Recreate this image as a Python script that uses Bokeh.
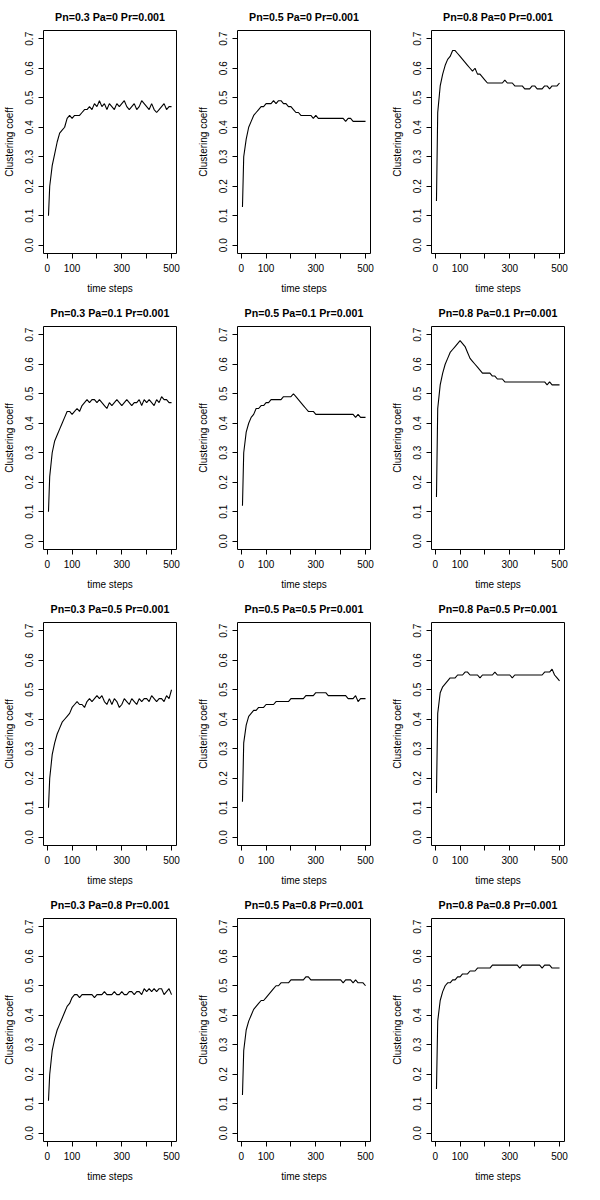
from bokeh.embed import file_html
from bokeh.resources import INLINE
from bokeh.layouts import gridplot
from bokeh.models import FixedTicker, Range1d
from bokeh.plotting import figure

steps = [5] + list(range(10, 501, 10))

titles = [
    "Pn=0.3 Pa=0 Pr=0.001", "Pn=0.5 Pa=0 Pr=0.001", "Pn=0.8 Pa=0 Pr=0.001",
    "Pn=0.3 Pa=0.1 Pr=0.001", "Pn=0.5 Pa=0.1 Pr=0.001", "Pn=0.8 Pa=0.1 Pr=0.001",
    "Pn=0.3 Pa=0.5 Pr=0.001", "Pn=0.5 Pa=0.5 Pr=0.001", "Pn=0.8 Pa=0.5 Pr=0.001",
    "Pn=0.3 Pa=0.8 Pr=0.001", "Pn=0.5 Pa=0.8 Pr=0.001", "Pn=0.8 Pa=0.8 Pr=0.001",
]

cc_03_0 = [0.10, 0.20, 0.27, 0.31, 0.35, 0.38, 0.39, 0.40, 0.43, 0.44, 0.43,
           0.44, 0.44, 0.44, 0.45, 0.46, 0.46, 0.47, 0.46, 0.48, 0.47,
           0.49, 0.47, 0.48, 0.46, 0.48, 0.47, 0.46, 0.48, 0.47, 0.48,
           0.49, 0.47, 0.46, 0.47, 0.48, 0.46, 0.47, 0.49, 0.48, 0.47,
           0.46, 0.48, 0.46, 0.45, 0.46, 0.47, 0.48, 0.46, 0.47, 0.47]
cc_05_0 = [0.13, 0.30, 0.36, 0.40, 0.42, 0.44, 0.45, 0.46, 0.47, 0.47, 0.48,
           0.48, 0.48, 0.49, 0.48, 0.49, 0.49, 0.48, 0.48, 0.47, 0.47,
           0.46, 0.45, 0.45, 0.44, 0.44, 0.44, 0.44, 0.44, 0.43, 0.44,
           0.43, 0.43, 0.43, 0.43, 0.43, 0.43, 0.43, 0.43, 0.43, 0.43,
           0.43, 0.42, 0.43, 0.43, 0.42, 0.42, 0.42, 0.42, 0.42, 0.42]
cc_08_0 = [0.15, 0.45, 0.54, 0.58, 0.61, 0.63, 0.64, 0.66, 0.66, 0.65, 0.64,
           0.63, 0.62, 0.61, 0.60, 0.59, 0.60, 0.58, 0.58, 0.57, 0.56,
           0.55, 0.55, 0.55, 0.55, 0.55, 0.55, 0.55, 0.56, 0.55, 0.55,
           0.55, 0.54, 0.54, 0.54, 0.54, 0.53, 0.53, 0.53, 0.54, 0.54,
           0.53, 0.53, 0.53, 0.54, 0.54, 0.53, 0.54, 0.54, 0.54, 0.55]
cc_03_01 = [0.10, 0.22, 0.30, 0.34, 0.36, 0.38, 0.40, 0.42, 0.44, 0.44, 0.43,
            0.44, 0.45, 0.44, 0.46, 0.47, 0.48, 0.47, 0.48, 0.48, 0.47,
            0.48, 0.47, 0.46, 0.45, 0.47, 0.46, 0.47, 0.48, 0.47, 0.46,
            0.47, 0.48, 0.47, 0.46, 0.47, 0.47, 0.48, 0.46, 0.48, 0.47,
            0.48, 0.47, 0.46, 0.48, 0.47, 0.49, 0.48, 0.48, 0.47, 0.47]
cc_05_01 = [0.12, 0.30, 0.37, 0.40, 0.42, 0.43, 0.45, 0.45, 0.46, 0.46, 0.47,
            0.47, 0.48, 0.48, 0.48, 0.48, 0.48, 0.49, 0.49, 0.49, 0.49,
            0.50, 0.49, 0.48, 0.47, 0.46, 0.45, 0.44, 0.44, 0.44, 0.43,
            0.43, 0.43, 0.43, 0.43, 0.43, 0.43, 0.43, 0.43, 0.43, 0.43,
            0.43, 0.43, 0.43, 0.43, 0.43, 0.42, 0.43, 0.42, 0.42, 0.42]
cc_08_01 = [0.15, 0.45, 0.53, 0.57, 0.60, 0.62, 0.64, 0.65, 0.66, 0.67, 0.68,
            0.67, 0.66, 0.64, 0.62, 0.61, 0.60, 0.59, 0.58, 0.57, 0.57,
            0.57, 0.57, 0.56, 0.56, 0.55, 0.55, 0.55, 0.54, 0.54, 0.54,
            0.54, 0.54, 0.54, 0.54, 0.54, 0.54, 0.54, 0.54, 0.54, 0.54,
            0.54, 0.54, 0.54, 0.54, 0.53, 0.54, 0.53, 0.53, 0.53, 0.53]
cc_03_05 = [0.10, 0.20, 0.28, 0.32, 0.35, 0.37, 0.39, 0.40, 0.41, 0.42, 0.44,
            0.45, 0.46, 0.45, 0.45, 0.44, 0.46, 0.47, 0.46, 0.47, 0.48,
            0.47, 0.48, 0.46, 0.45, 0.47, 0.45, 0.47, 0.46, 0.44, 0.45,
            0.47, 0.46, 0.45, 0.47, 0.46, 0.45, 0.47, 0.46, 0.47, 0.47,
            0.46, 0.48, 0.47, 0.46, 0.47, 0.47, 0.46, 0.48, 0.47, 0.50]
cc_05_05 = [0.12, 0.32, 0.38, 0.41, 0.42, 0.43, 0.43, 0.44, 0.44, 0.44, 0.45,
            0.45, 0.45, 0.45, 0.46, 0.46, 0.46, 0.46, 0.46, 0.46, 0.47,
            0.47, 0.47, 0.47, 0.47, 0.47, 0.48, 0.48, 0.48, 0.48, 0.49,
            0.49, 0.49, 0.49, 0.49, 0.48, 0.48, 0.48, 0.48, 0.48, 0.48,
            0.48, 0.48, 0.47, 0.47, 0.47, 0.48, 0.46, 0.47, 0.47, 0.47]
cc_08_05 = [0.15, 0.42, 0.49, 0.51, 0.52, 0.53, 0.54, 0.54, 0.54, 0.55, 0.55,
            0.55, 0.56, 0.56, 0.55, 0.55, 0.55, 0.55, 0.54, 0.55, 0.55,
            0.55, 0.55, 0.55, 0.56, 0.55, 0.55, 0.55, 0.55, 0.55, 0.55,
            0.54, 0.55, 0.55, 0.55, 0.55, 0.55, 0.55, 0.55, 0.55, 0.55,
            0.55, 0.55, 0.55, 0.56, 0.56, 0.56, 0.57, 0.55, 0.54, 0.53]
cc_03_08 = [0.11, 0.20, 0.28, 0.32, 0.35, 0.37, 0.39, 0.41, 0.43, 0.44, 0.46,
            0.47, 0.47, 0.46, 0.47, 0.47, 0.47, 0.47, 0.47, 0.46, 0.47,
            0.47, 0.47, 0.48, 0.47, 0.47, 0.47, 0.48, 0.47, 0.47, 0.48,
            0.47, 0.47, 0.48, 0.48, 0.47, 0.48, 0.48, 0.47, 0.49, 0.48,
            0.49, 0.48, 0.49, 0.48, 0.49, 0.49, 0.47, 0.48, 0.49, 0.47]
cc_05_08 = [0.13, 0.28, 0.35, 0.38, 0.40, 0.42, 0.43, 0.44, 0.45, 0.45, 0.46,
            0.47, 0.48, 0.49, 0.50, 0.50, 0.51, 0.51, 0.51, 0.51, 0.52,
            0.52, 0.52, 0.52, 0.52, 0.52, 0.53, 0.53, 0.52, 0.52, 0.52,
            0.52, 0.52, 0.52, 0.52, 0.52, 0.52, 0.52, 0.52, 0.52, 0.52,
            0.51, 0.52, 0.52, 0.52, 0.51, 0.52, 0.51, 0.51, 0.51, 0.50]
cc_08_08 = [0.15, 0.38, 0.45, 0.48, 0.50, 0.51, 0.51, 0.52, 0.52, 0.53, 0.53,
            0.54, 0.54, 0.54, 0.55, 0.55, 0.55, 0.56, 0.56, 0.56, 0.56,
            0.56, 0.56, 0.57, 0.57, 0.57, 0.57, 0.57, 0.57, 0.57, 0.57,
            0.57, 0.57, 0.57, 0.56, 0.57, 0.57, 0.57, 0.57, 0.57, 0.57,
            0.57, 0.57, 0.56, 0.57, 0.57, 0.57, 0.56, 0.56, 0.56, 0.56]

series = [cc_03_0, cc_05_0, cc_08_0, cc_03_01, cc_05_01, cc_08_01,
          cc_03_05, cc_05_05, cc_08_05, cc_03_08, cc_05_08, cc_08_08]

x_ticks = [0, 100, 200, 300, 400, 500]
y_ticks = [0.0, 0.1, 0.2, 0.3, 0.4, 0.5, 0.6, 0.7]
FONT = "Liberation Sans"


def make_panel(title, values):
    p = figure(width=194, height=296, output_backend="svg", toolbar_location=None,
               x_range=Range1d(-15, 520), y_range=Range1d(-0.028, 0.728),
               min_border_left=36, min_border_right=18, min_border_top=14,
               min_border_bottom=10)
    p.title.text = title
    p.title.align = "center"
    p.title.text_font = FONT
    p.title.text_font_size = "8pt"
    p.title.text_font_style = "bold"
    p.title.text_color = "black"
    p.title.standoff = 16
    p.grid.visible = False
    p.outline_line_color = "black"
    p.outline_line_width = 1

    p.xaxis.ticker = FixedTicker(ticks=x_ticks)
    p.xaxis.major_label_overrides = {200: "", 400: ""}
    p.xaxis.bounds = (0, 500)
    p.xaxis.axis_label = "time steps"
    p.yaxis.ticker = FixedTicker(ticks=y_ticks)
    p.yaxis.major_label_overrides = {t: "%.1f" % t for t in y_ticks}
    p.yaxis.bounds = (0, 0.7)
    p.yaxis.major_label_orientation = "vertical"
    p.yaxis.axis_label = "Clustering coeff"
    for ax in (p.xaxis, p.yaxis):
        ax.minor_tick_line_color = None
        ax.major_tick_in = 0
        ax.major_tick_out = 5
        ax.major_label_text_font = FONT
        ax.major_label_text_font_size = "7.5pt"
        ax.major_label_text_color = "black"
        ax.axis_label_text_font = FONT
        ax.axis_label_text_font_size = "7.5pt"
        ax.axis_label_text_font_style = "normal"
        ax.axis_label_text_color = "black"
        ax.axis_label_standoff = 8

    p.line(steps, values, line_color="black", line_width=1.1)
    return p


panels = [make_panel(t, v) for t, v in zip(titles, series)]
grid = gridplot(panels, ncols=3, toolbar_location=None)

open("out.html", "w").write(file_html(grid, INLINE))
